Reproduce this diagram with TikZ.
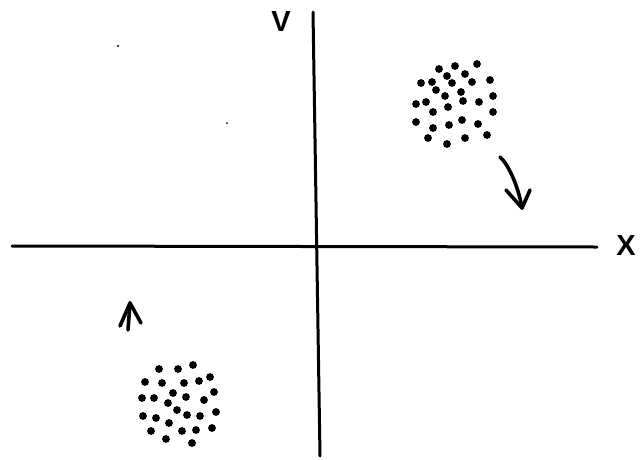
\documentclass[tikz,border=0pt]{standalone}
\usepackage{fontspec}
\setmainfont{Liberation Sans}
\begin{document}
\begin{tikzpicture}[x=1pt,y=-1pt,
  axis/.style={line width=3pt,line cap=round},
  pen/.style={line width=3.6pt,line cap=round,line join=round},
  lbl/.style={font=\fontsize{29}{29}\selectfont\bfseries,inner sep=0pt},
  spot/.style={fill=black}]
\useasboundingbox (0,0) rectangle (641,459);
% axes
\coordinate (xl) at (12,246);
\coordinate (xr) at (597,247);
\coordinate (yt) at (313,12);
\coordinate (yb) at (320,456);
\draw[axis] (xl) -- (xr);
\draw[axis] (yt) -- (yb);
\node[lbl] (vlab) at (281,22) {V};
\node[lbl] (xlab) at (626,246) {X};
% upper right cluster
\foreach \p in {(439,69),(455,66),(477,64),(447,76),(465,74),(421,83),(432,82),(452,83),(472,82),(490,80),(436,90),(461,92),(445,96),(493,96),(416,104),(426,102),(463,101),(479,102),(433,112),(448,107),(493,112),(416,122),(433,128),(449,125),(462,120),(478,124),(428,138),(447,144),(465,138),(487,135)}
  \fill[spot] \p circle (3.9);
% lower left cluster
\foreach \p in {(159,369),(178,369),(193,365),(145,382),(162,383),(184,383),(199,381),(210,377),(173,393),(214,392),(142,398),(154,398),(168,403),(186,397),(204,400),(177,410),(216,412),(143,416),(156,418),(187,415),(200,416),(169,423),(151,431),(182,431),(196,430),(212,428),(166,439),(192,443)}
  \fill[spot] \p circle (3.9);
% specks
\fill (118,46) circle (1.2);
\fill (227,123) circle (1);
% right arrow
\coordinate (ra0) at (500,157);
\coordinate (ra1) at (522,208);
\coordinate (rab1) at (506,190);
\coordinate (rab2) at (530,190);
\draw[pen] (ra0) .. controls (508,164) and (518,185) .. (ra1);
\draw[pen] (rab1) -- (ra1) -- (rab2);
% left arrow
\coordinate (la0) at (128,330);
\coordinate (la1) at (130,303);
\coordinate (lab1) at (120,326);
\coordinate (lab2) at (141,323);
\draw[pen] (la0) -- (la1);
\draw[pen] (lab1) -- (la1) -- (lab2);
\end{tikzpicture}
\end{document}
